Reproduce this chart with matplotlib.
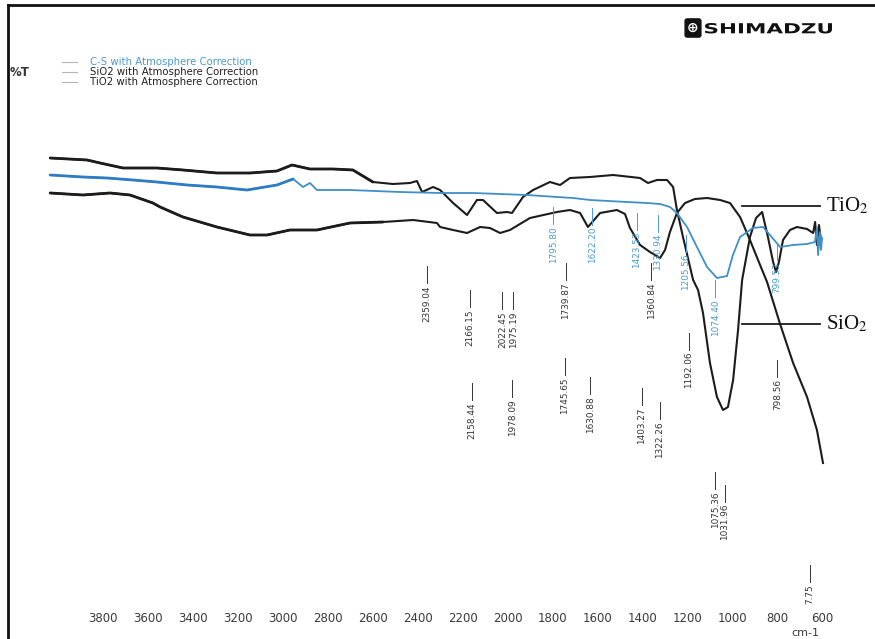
import matplotlib
matplotlib.use('Agg')
import matplotlib.pyplot as plt
import numpy as np
from matplotlib.font_manager import FontProperties
from matplotlib.patches import PathPatch
from matplotlib.textpath import TextPath
from matplotlib.transforms import Affine2D

# %% Data (wavenumber cm-1, %T)
sio2_wn = [4035, 3871, 3813, 3711, 3560, 3444, 3293, 3146, 3026, 2959, 2879, 2776,
           2688, 2599, 2510, 2434, 2403, 2380, 2331, 2300, 2242, 2180, 2136, 2109,
           2047, 2002, 1980, 1931, 1886, 1811, 1766, 1722, 1633, 1530, 1410, 1375,
           1335, 1290, 1263, 1246, 1219, 1174, 1152, 1130, 1099, 1068, 1041, 1019,
           996, 974, 956, 921, 894, 867, 841, 818, 805, 792, 774, 743, 712, 667,
           640, 631, 623, 614, 605]
sio2_t = [88.4, 88.0, 87.4, 86.4, 86.4, 86.0, 85.4, 85.4, 85.8, 87.0, 86.2, 86.2,
          86.0, 83.6, 83.2, 83.4, 83.8, 81.6, 82.6, 82.0, 79.4, 77.0, 80.0, 80.0,
          77.4, 77.6, 77.4, 80.6, 82.0, 83.6, 83.0, 84.4, 84.6, 85.0, 84.4, 83.4,
          84.0, 84.0, 82.6, 78.0, 72.6, 64.0, 62.0, 57.4, 47.4, 40.6, 38.0, 38.6,
          44.0, 54.0, 64.0, 72.6, 76.4, 77.6, 72.6, 67.6, 65.6, 67.6, 72.0, 74.0,
          74.6, 74.2, 73.4, 75.6, 71.0, 75.0, 72.0]

tio2_wn = [4035, 3889, 3769, 3680, 3578, 3546, 3444, 3293, 3146, 3070, 2968, 2848,
           2701, 2554, 2420, 2314, 2300, 2242, 2180, 2122, 2078, 2033, 1989, 1900,
           1780, 1722, 1677, 1642, 1588, 1513, 1477, 1455, 1410, 1366, 1321, 1299,
           1277, 1246, 1210, 1166, 1112, 1054, 1010, 965, 921, 876, 845, 787, 729,
           667, 623, 596]
tio2_t = [81.4, 81.0, 81.4, 81.0, 79.4, 78.6, 76.6, 74.6, 73.0, 73.0, 74.0, 74.0,
          75.4, 75.6, 76.0, 75.4, 74.6, 74.0, 73.4, 74.6, 74.4, 73.4, 74.0, 76.4,
          77.6, 78.0, 77.4, 74.6, 77.4, 78.0, 77.2, 74.4, 71.0, 69.6, 68.4, 70.0,
          73.6, 77.4, 79.4, 80.2, 80.4, 80.0, 79.4, 76.6, 72.0, 67.0, 63.6, 55.2,
          47.4, 40.6, 34.0, 27.4]

cs_wn = [4035, 3889, 3782, 3667, 3560, 3426, 3293, 3159, 3026, 2954, 2910, 2879,
         2848, 2701, 2478, 2300, 2154, 1913, 1780, 1708, 1633, 1468, 1379, 1321,
         1277, 1246, 1201, 1157, 1112, 1068, 1023, 997, 965, 908, 863, 832, 787,
         729, 667, 632, 623, 618, 610, 605, 600]
cs_t = [85.0, 84.6, 84.4, 84.0, 83.6, 83.0, 82.6, 82.0, 83.0, 84.2, 82.6, 83.4,
        82.0, 82.0, 81.6, 81.4, 81.4, 81.0, 80.6, 80.4, 80.0, 79.6, 79.4, 79.2,
        78.6, 77.4, 74.6, 70.6, 66.6, 64.4, 64.8, 69.0, 72.6, 74.4, 74.6, 73.0,
        70.6, 71.0, 71.2, 71.6, 74.4, 69.0, 73.6, 70.0, 72.4]

# peak labels: position, text, top of leader line (%T)
black_peak_wn = [2359.04, 2166.15, 2022.45, 1975.19, 1739.87, 1360.84, 1192.06,
                 2158.44, 1978.09, 1745.65, 1630.88, 1403.27, 1322.26, 1075.36,
                 1031.96, 798.56, 653]
black_peak_txt = ['2359.04', '2166.15', '2022.45', '1975.19', '1739.87', '1360.84',
                  '1192.06', '2158.44', '1978.09', '1745.65', '1630.88', '1403.27',
                  '1322.26', '1075.36', '1031.96', '798.56', '7.75']
black_peak_top = [66.8, 62.0, 61.6, 61.6, 67.4, 67.4, 53.4, 43.4, 44.0, 48.4,
                  44.6, 42.4, 39.6, 25.6, 23.0, 48.0, 7.0]

blue_peak_wn = [1795.80, 1622.20, 1423.53, 1330.94, 1205.56, 1074.40, 799.53]
blue_peak_txt = ['1795.80', '1622.20', '1423.53', '1330.94', '1205.56', '1074.40',
                 '799.53']
blue_peak_top = [78.6, 78.4, 77.4, 77.0, 73.0, 64.0, 71.4]

xticks = list(range(3800, 500, -200))
legend_names = ['C-S with Atmosphere Correction', 'SiO2 with Atmosphere Correction',
                'TiO2 with Atmosphere Correction']

BLACK = '#1c1c1c'
BLUE = '#3f8fc8'
LABEL_FONT = ['Liberation Sans Narrow', 'DejaVu Sans']

# %% Figure
fig = plt.figure(figsize=(8.75, 6.39), dpi=100)
ax = fig.add_axes([8 / 875, 0, 867 / 875, 634 / 639])
ax.set_xlim(4222.75, 364.6)
ax.set_ylim(-7.8, 119.0)
ax.set_xticks([])
ax.set_yticks([])
for side in ['bottom', 'right']:
    ax.spines[side].set_visible(False)
for side in ['left', 'top']:
    ax.spines[side].set_linewidth(2)
    ax.spines[side].set_color('#111')

# spectra
ax.plot(tio2_wn, tio2_t, color=BLACK, lw=1.5)
ax.plot(sio2_wn, sio2_t, color=BLACK, lw=1.5)
ax.plot(cs_wn, cs_t, color=BLUE, lw=1.3)

# heavier (noisier-looking) high-wavenumber ends
def left_part(w, t, cut):
    n = sum(1 for a in w if a > cut)
    return w[:n + 1], t[:n + 1]

for w, t, c, cut in [(tio2_wn, tio2_t, BLACK, 2600), (sio2_wn, sio2_t, BLACK, 2600),
                     (cs_wn, cs_t, '#2f7cc4', 3000)]:
    lw_, lt_ = left_part(w, t, cut)
    ax.plot(lw_, lt_, color=c, lw=2.0, solid_capstyle='round')

# peak labels
def peak_labels(wns, txts, tops, color):
    for w, s, top in zip(wns, txts, tops):
        ax.plot([w, w], [top, top - 3.4], color=color, lw=0.7)
        ax.text(w, top - 3.8, s, rotation=90, ha='center', va='top',
                fontsize=6.4, color=color, family=LABEL_FONT)

peak_labels(black_peak_wn, black_peak_txt, black_peak_top, '#333333')
peak_labels(blue_peak_wn, blue_peak_txt, blue_peak_top, '#4a9ad0')

# x tick labels drawn inside the frame
for v in xticks:
    ax.text(v, -3.6, str(v), ha='center', va='center', fontsize=8.5, color='#3a3a3a')
ax.text(676, -6.5, 'cm-1', ha='center', va='center', fontsize=8, color='#3a3a3a')

# legend block
ax.text(4214, 105.4, '%T', ha='left', va='center', fontsize=8.5, weight='bold', color='#333')
leg_y = [107.6, 105.6, 103.6]
leg_c = ['#4a9ad0', '#222222', '#222222']
for name, y, c in zip(legend_names, leg_y, leg_c):
    ax.plot([3982, 3916], [y, y], color='#b5b5b5', lw=0.8)
    ax.text(3858, y, name, ha='left', va='center', fontsize=7.3, color=c)

# compound annotations
ax.plot([956, 609], [78.8, 78.8], color=BLACK, lw=1.3)
ax.plot([956, 609], [55.2, 55.2], color=BLACK, lw=1.3)
plt.rcParams['mathtext.fontset'] = 'stix'
ax.text(583, 78.8, 'TiO$_2$', ha='left', va='center', fontsize=15,
        family=['Liberation Serif', 'DejaVu Serif'], color='#111')
ax.text(583, 55.2, 'SiO$_2$', ha='left', va='center', fontsize=15,
        family=['Liberation Serif', 'DejaVu Serif'], color='#111')

# SHIMADZU logo
px = Affine2D().scale(1 / 875, 1 / 639) + fig.transFigure
tp = TextPath((0, 0), 'SHIMADZU', size=10, prop=FontProperties(family='DejaVu Sans', weight='bold'))
bb = tp.get_extents()
tr = Affine2D().translate(-bb.x0, -bb.y0).scale(127 / bb.width, 10.5 / bb.height).translate(705, 639 - 33.5)
fig.patches.append(PathPatch(tr.transform_path(tp), color='#111', lw=0, transform=px))
fig.text(693 / 875, 1 - 28 / 639, '\u2295', ha='center', va='center', fontsize=10,
         color='white', weight='bold',
         bbox=dict(boxstyle='round,pad=0.15', fc='#111', ec='#111'))

fig.savefig('out.png', dpi=100, facecolor='white')
